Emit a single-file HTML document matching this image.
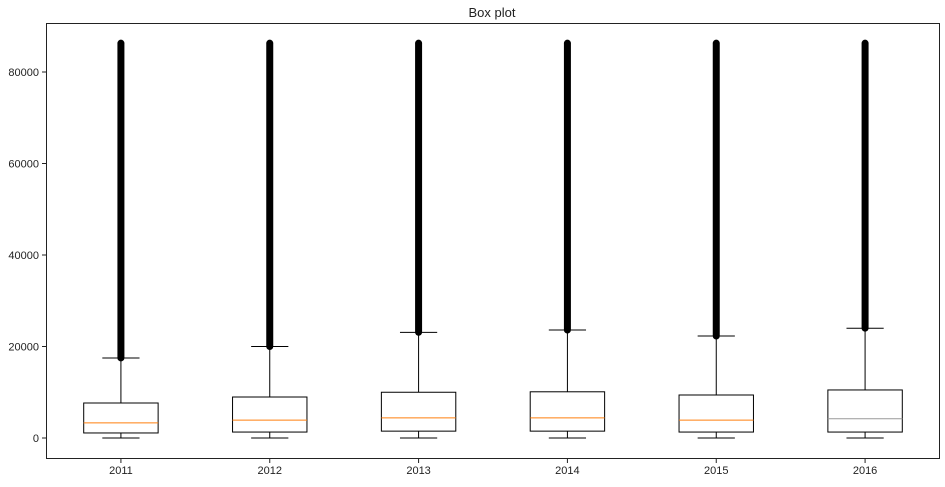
<!DOCTYPE html>
<html><head><meta charset="utf-8"><style>
body{margin:0;background:#fff;}
svg text{font-family:"Liberation Sans","DejaVu Sans",sans-serif;font-size:11px;fill:#222;}
</style></head><body>
<svg id="chart" width="945" height="482">
<text x="492" y="17" text-anchor="middle" style="font-size:13px">Box plot</text>
<g id="plot"></g>
<rect x="46.5" y="23.5" width="893" height="435" fill="none" stroke="#222" stroke-width="1"/>
</svg>
<script>
const categories=["2011","2012","2013","2014","2015","2016"];
const q1=[1100,1300,1500,1500,1300,1300];
const median=[3300,3900,4400,4400,3900,4200];
const q3=[7650,8960,10000,10100,9400,10500];
const whiskerLow=[0,0,0,0,0,0];
const whiskerHigh=[17500,20000,23100,23600,22300,24000];
const outlierMax=[86300,86300,86300,86300,86300,86300];
const yTicks=[0,20000,40000,60000,80000];
const NS="http://www.w3.org/2000/svg";
const g=document.getElementById('plot');
const left=46.5,right=939.5;
const x=i=>left+(i+0.5)*(right-left)/categories.length;
const y=v=>438-v*91.5/20000;
const bw=0.5*(right-left)/categories.length;
function mk(tag,attrs){const e=document.createElementNS(NS,tag);for(const k in attrs)e.setAttribute(k,attrs[k]);g.appendChild(e);return e;}
yTicks.forEach(t=>{
 const l=mk('line',{x1:42,x2:46.5,y1:y(t),y2:y(t),stroke:'#222'});
 
 
 const tx=mk('text',{x:39,y:y(t)+4,'text-anchor':'end'});tx.textContent=t;
 
 
});
categories.forEach((c,i)=>{
 const cx=x(i);
 const o=mk('line',{x1:cx,x2:cx,y1:y(whiskerHigh[i]),y2:y(outlierMax[i]),stroke:'#000','stroke-width':7,'stroke-linecap':'round'});
 
 
 const w1=mk('line',{x1:cx,x2:cx,y1:y(q3[i]),y2:y(whiskerHigh[i]),stroke:'#000'});
 
 
 const w2=mk('line',{x1:cx,x2:cx,y1:y(q1[i]),y2:y(whiskerLow[i]),stroke:'#000'});
 
 
 [whiskerHigh[i],whiskerLow[i]].forEach(v=>{
  const cap=mk('line',{x1:cx-bw/4,x2:cx+bw/4,y1:y(v),y2:y(v),stroke:'#000'});
  
  
 });
 const b=mk('rect',{x:cx-bw/2,y:y(q3[i]),width:bw,height:y(q1[i])-y(q3[i]),fill:'#fff',stroke:'#000'});
 
 
 const m=mk('line',{x1:cx-bw/2,x2:cx+bw/2,y1:y(median[i]),y2:y(median[i]),stroke:i==5?'#999':'#ff7f0e'});
 
 
 const t=mk('line',{x1:cx,x2:cx,y1:458.5,y2:463,stroke:'#222'});
 
 
 const tx=mk('text',{x:cx,y:474,'text-anchor':'middle'});tx.textContent=c;
 
 
});
</script>
</body></html>
